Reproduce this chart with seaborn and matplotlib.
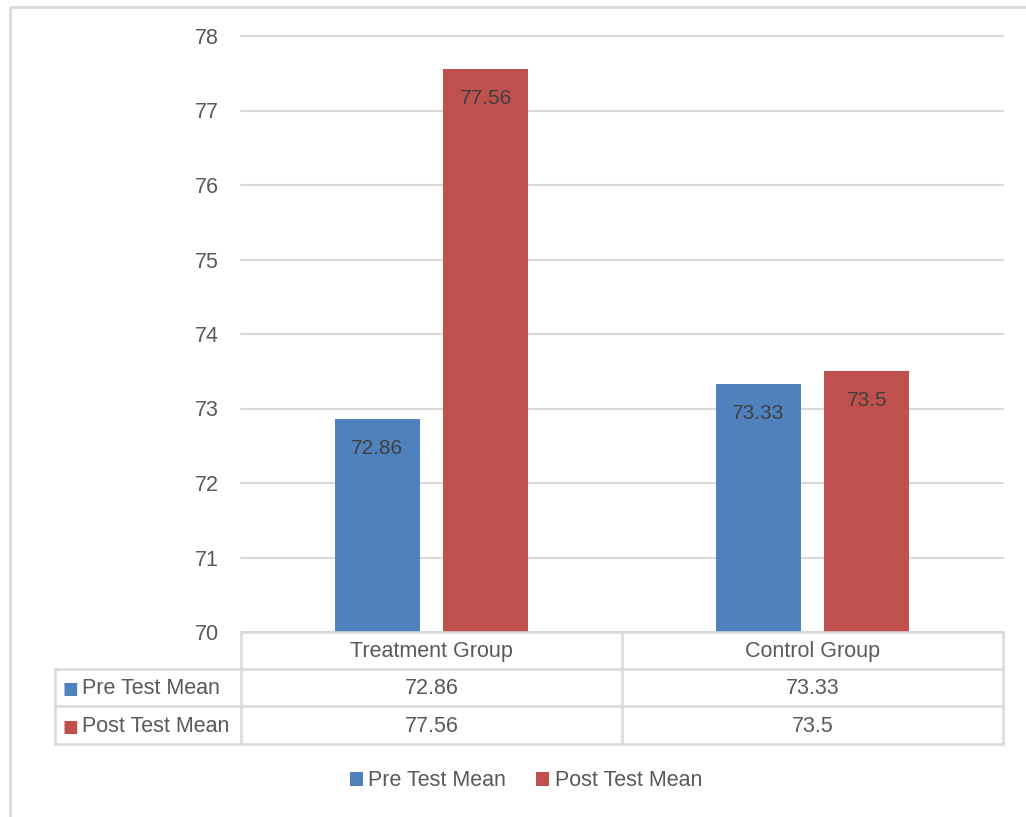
import matplotlib
matplotlib.use("Agg")
import matplotlib.pyplot as plt
from matplotlib.lines import Line2D
from matplotlib.patches import Patch
import seaborn as sns
import pandas as pd

categories = ["Treatment Group", "Control Group"]
series_names = ["Pre Test Mean", "Post Test Mean"]
pre_values = [72.86, 73.33]
post_values = [77.56, 73.5]
y_ticks = [70, 71, 72, 73, 74, 75, 76, 77, 78]

colors = ["#4F81BD", "#C0504D"]
grid_c = "#D9D9D9"
tick_c = "#595959"
lab_c = "#404040"

sns.set_style("white")
plt.rcParams["font.family"] = ["Liberation Sans", "DejaVu Sans"]

df = pd.DataFrame({
    "Group": categories * 2,
    "Series": [series_names[0]] * len(categories) + [series_names[1]] * len(categories),
    "Value": pre_values + post_values,
})

W, H = 1026, 817
fig = plt.figure(figsize=(W / 100, H / 100), dpi=100)
fig.patch.set_facecolor("white")

def fx(px):
    return px / W

def fy(py):
    return 1 - py / H

ax = fig.add_axes([fx(241), fy(632), fx(1003) - fx(241), fy(36) - fy(632)])
sns.barplot(data=df, x="Group", y="Value", hue="Series", palette=colors,
            order=categories, hue_order=series_names, gap=0.22, width=0.572,
            saturation=1, legend=False, ax=ax, edgecolor="none")
ax.set_ylim(y_ticks[0], y_ticks[-1])
ax.set_xlim(-0.5, len(categories) - 0.5)
ax.set_yticks(y_ticks)
ax.set_yticklabels([str(t) for t in y_ticks], fontsize=15.5, color=tick_c)
ax.tick_params(axis="y", length=0, pad=16)
ax.set_xticks([])
ax.set_xlabel("")
ax.set_ylabel("")
for s in ax.spines.values():
    s.set_visible(False)
ax.yaxis.grid(True, color=grid_c, lw=1.5)
for gl in ax.get_ygridlines():
    gl.set_clip_on(False)
ax.set_axisbelow(True)

for cont in ax.containers:
    ax.bar_label(cont, labels=[f"{v:g}" for v in cont.datavalues],
                 padding=-28, fontsize=15, color=lab_c)

# data table
line_kw = dict(color=grid_c, lw=1.8, transform=fig.transFigure)
rows_y = [632, 669, 706, 744]
x_label0, x_ax0, x_ax1 = 55, 241, 1003
fig.add_artist(Line2D([fx(x_ax0), fx(x_ax1)], [fy(632)] * 2, **line_kw))
for ry in rows_y[1:]:
    fig.add_artist(Line2D([fx(x_label0), fx(x_ax1)], [fy(ry)] * 2, **line_kw))
fig.add_artist(Line2D([fx(x_label0)] * 2, [fy(669), fy(744)], **line_kw))
ncat = len(categories)
col_w = (x_ax1 - x_ax0) / ncat
for i in range(ncat + 1):
    xx = x_ax0 + i * col_w
    fig.add_artist(Line2D([fx(xx)] * 2, [fy(632), fy(744)], **line_kw))

tfs = 15.5
for i, cat in enumerate(categories):
    cx = x_ax0 + (i + 0.5) * col_w
    fig.text(fx(cx), fy(651), cat, ha="center", va="center", fontsize=tfs, color=tick_c)
    fig.text(fx(cx), fy(689), f"{pre_values[i]:g}", ha="center", va="center", fontsize=tfs, color=tick_c)
    fig.text(fx(cx), fy(727), f"{post_values[i]:g}", ha="center", va="center", fontsize=tfs, color=tick_c)

for j, (name, c) in enumerate(zip(series_names, colors)):
    cy = (rows_y[j + 1] + rows_y[j + 2]) / 2 + 1.5
    fig.text(fx(62), fy(cy), "■", ha="left", va="center", fontsize=12, color=c,
             family="DejaVu Sans")
    fig.text(fx(82), fy(cy), name, ha="left", va="center", fontsize=tfs, color=tick_c)

# legend
handles = [Patch(facecolor=c, edgecolor="none") for c in colors]
fig.legend(handles, series_names, loc="center", bbox_to_anchor=(fx(526), fy(781)),
           ncol=2, frameon=False, fontsize=tfs, labelcolor=tick_c,
           handlelength=0.6, handleheight=0.6, handletextpad=0.25, columnspacing=1.4)

# outer border
fig.add_artist(Line2D([fx(10), fx(10), fx(1026)], [fy(817), fy(7), fy(7)],
                      color=grid_c, lw=2, transform=fig.transFigure))

fig.savefig("out.png", dpi=100, facecolor="white")
